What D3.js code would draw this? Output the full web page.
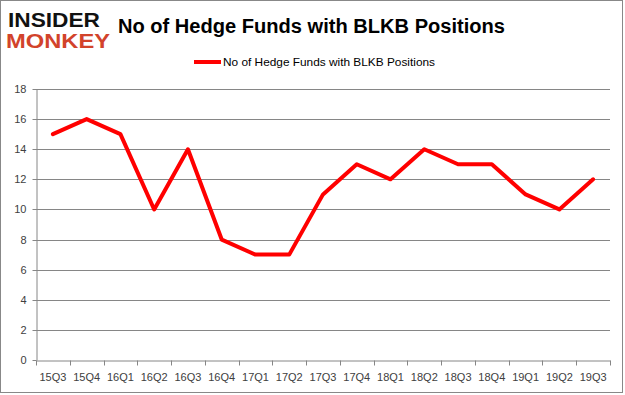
<!DOCTYPE html>
<html><head><meta charset="utf-8">
<script src="https://cdn.jsdelivr.net/npm/d3@7"></script>
<style>body{margin:0;background:#fff;}svg{display:block;font-family:"Liberation Sans",Arial,sans-serif;}</style>
</head><body>
<svg id="c" width="625" height="395"></svg>
<script>
const categories = ["15Q3","15Q4","16Q1","16Q2","16Q3","16Q4","17Q1","17Q2","17Q3","17Q4","18Q1","18Q2","18Q3","18Q4","19Q1","19Q2","19Q3"];
const values = [15,16,15,10,14,8,7,7,11,13,12,14,13,13,11,10,12];
const yTicks = [0,2,4,6,8,10,12,14,16,18];
const seriesName = "No of Hedge Funds with BLKB Positions";
const titleText = "No of Hedge Funds with BLKB Positions";

const svg = d3.select("#c");
const W = 625, H = 395;
const m = {left:36, right:15, top:89, bottom:35};
svg.append("rect").attr("x",0.5).attr("y",0.5).attr("width",622).attr("height",392)
  .attr("fill","#fff").attr("stroke","#888").attr("stroke-width",1);

const x = d3.scaleBand().domain(categories).range([m.left, W - m.right]);
const y = d3.scaleLinear().domain([0,18]).range([H - m.bottom, m.top]);

// gridlines
svg.append("g").selectAll("line").data(yTicks.filter(d=>d>0)).join("line")
  .attr("x1", m.left).attr("x2", W - m.right)
  .attr("y1", d=>Math.round(y(d))+0.5).attr("y2", d=>Math.round(y(d))+0.5)
  .attr("stroke","#868686").attr("stroke-width",1);

// y axis
const yAxis = svg.append("g").attr("transform",`translate(${m.left+0.5},0)`)
  .call(d3.axisLeft(y).tickValues(yTicks).tickSize(5).tickSizeOuter(0).tickPadding(4));
yAxis.select(".domain").attr("stroke","#868686");
yAxis.selectAll(".tick line").attr("stroke","#868686");
yAxis.selectAll(".tick").attr("transform", d=>`translate(0,${Math.round(y(d))+0.5})`);
yAxis.selectAll("text").attr("fill","#404040").style("font-size","11px").attr("x",-10);
yAxis.selectAll(".tick line").attr("x2",-4);

// x axis
const xAxis = svg.append("g").attr("transform",`translate(0,${Math.round(y(0))+0.5})`)
  .call(d3.axisBottom(x).tickSize(0).tickPadding(13));
xAxis.select(".domain").attr("stroke","#868686");
xAxis.selectAll("text").attr("fill","#404040").style("font-size","11px");
// ticks at band boundaries
const bounds = categories.map(c=>x(c)).concat([x(categories[categories.length-1])+x.bandwidth()]);
xAxis.append("g").selectAll("line").data(bounds).join("line")
  .attr("x1",d=>Math.round(d)+0.5).attr("x2",d=>Math.round(d)+0.5)
  .attr("y1",0).attr("y2",5).attr("stroke","#868686");

// line
const line = d3.line().x((d,i)=>x(categories[i])+x.bandwidth()/2).y(d=>y(d));
svg.append("path").datum(values).attr("d",line)
  .attr("fill","none").attr("stroke","#ff0000").attr("stroke-width",4)
  .attr("stroke-linejoin","round").attr("stroke-linecap","round");

// title
svg.append("text").attr("x",118).attr("y",33).text(titleText)
  .attr("fill","#000").style("font-size","20px").style("font-weight","bold")
  .attr("textLength",387).attr("lengthAdjust","spacingAndGlyphs");

// legend
svg.append("line").attr("x1",194).attr("x2",221).attr("y1",62).attr("y2",62)
  .attr("stroke","#ff0000").attr("stroke-width",4);
svg.append("text").attr("x",223).attr("y",66).text(seriesName)
  .attr("fill","#000").style("font-size","11.5px")
  .attr("textLength",212).attr("lengthAdjust","spacingAndGlyphs");

// logo
svg.append("text").attr("x",8).attr("y",27).text("INSIDER")
  .attr("fill","#111").style("font-size","21px").style("font-weight","bold")
  .attr("textLength",92).attr("lengthAdjust","spacingAndGlyphs");
svg.append("text").attr("x",6).attr("y",48).text("MONKEY")
  .attr("fill","#d2432b").style("font-size","21px").style("font-weight","bold")
  .attr("textLength",104).attr("lengthAdjust","spacingAndGlyphs");
</script>
</body></html>
